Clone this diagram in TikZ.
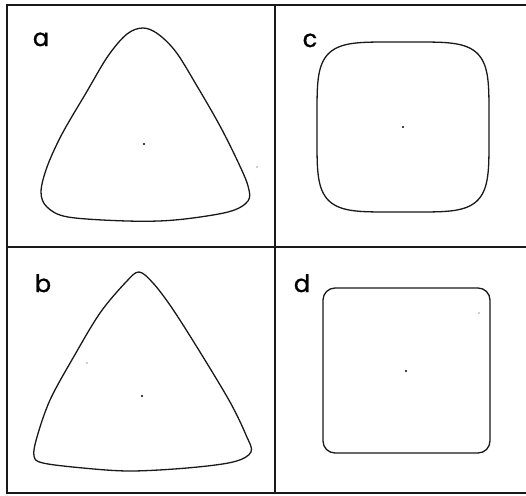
\documentclass[tikz,border=0pt]{standalone}
\usepackage{fontspec}
\newfontfamily\tagfont[FakeBold=1.2]{Poppins}
\usepackage{tikz}

\begin{document}
\begin{tikzpicture}[
    x=1pt, y=-1pt,
    frame/.style={line width=1.8pt, black!90},
    outline/.style={line width=1.3pt, black!90, tension=0.55},
    tag/.style={anchor=base, inner sep=0pt, font=\tagfont\fontsize{24}{24}\selectfont},
    centre/.style={fill=black, radius=1.1pt},
    speck/.style={fill=black!40, radius=0.8pt},
]
\useasboundingbox (0,0) rectangle (526,495);

% Frame and dividers
\draw[frame] (526,5) -- (7,5) -- (7,493) -- (526,493);
\draw[frame] (275,5) -- (275,493);
\draw[frame] (7,247) -- (526,247);

% Panel a — rounded triangle
\node[tag] (lbla) at (41,46) {a};
\draw[outline] plot[smooth cycle] coordinates {
    (143,28) (158,34) (176,52) (197,86) (220,126) (238,162) (248,186)
    (248,201) (228,212) (175,220) (127,221) (68,217) (47,207)
    (41,192) (47,167) (62,134) (86,93) (108,56) (127,34)};
\coordinate (ca) at (144,144);
\fill[centre] (ca) circle;
\fill[speck] (257,167) circle;

% Panel b — sharper triangle
\node[tag] (lblb) at (43,292) {b};
\draw[outline] plot[smooth cycle] coordinates {
    (139,272) (153,283) (172,308) (200,352) (230,402) (246,435) (251,452)
    (233,462) (187,468) (130,471) (83,468) (43,463) (34,456)
    (37,437) (50,400) (73,358) (100,313) (126,282)};
\coordinate (cb) at (142,396);
\fill[centre] (cb) circle;
\fill[speck] (87,363) circle;

% Panel c — rounded square
\node[tag] (lblc) at (310,47) {c};
\draw[outline] plot[domain=0.5:359.5, samples=360, smooth cycle]
    ({403 + 86*(cos(\x)<0 ? -1 : 1)*pow(abs(cos(\x)),0.42)},
     {127 + 85*(sin(\x)<0 ? -1 : 1)*pow(abs(sin(\x)),0.42)});
\coordinate (cc) at (403,127);
\fill[centre] (cc) circle;

% Panel d — square
\node[tag] (lbld) at (302,292) {d};
\draw[outline, rounded corners=12pt] (323,288) rectangle (490,453);
\coordinate (cd) at (406,371);
\fill[centre] (cd) circle;
\fill[speck] (479,313) circle;

\end{tikzpicture}
\end{document}
